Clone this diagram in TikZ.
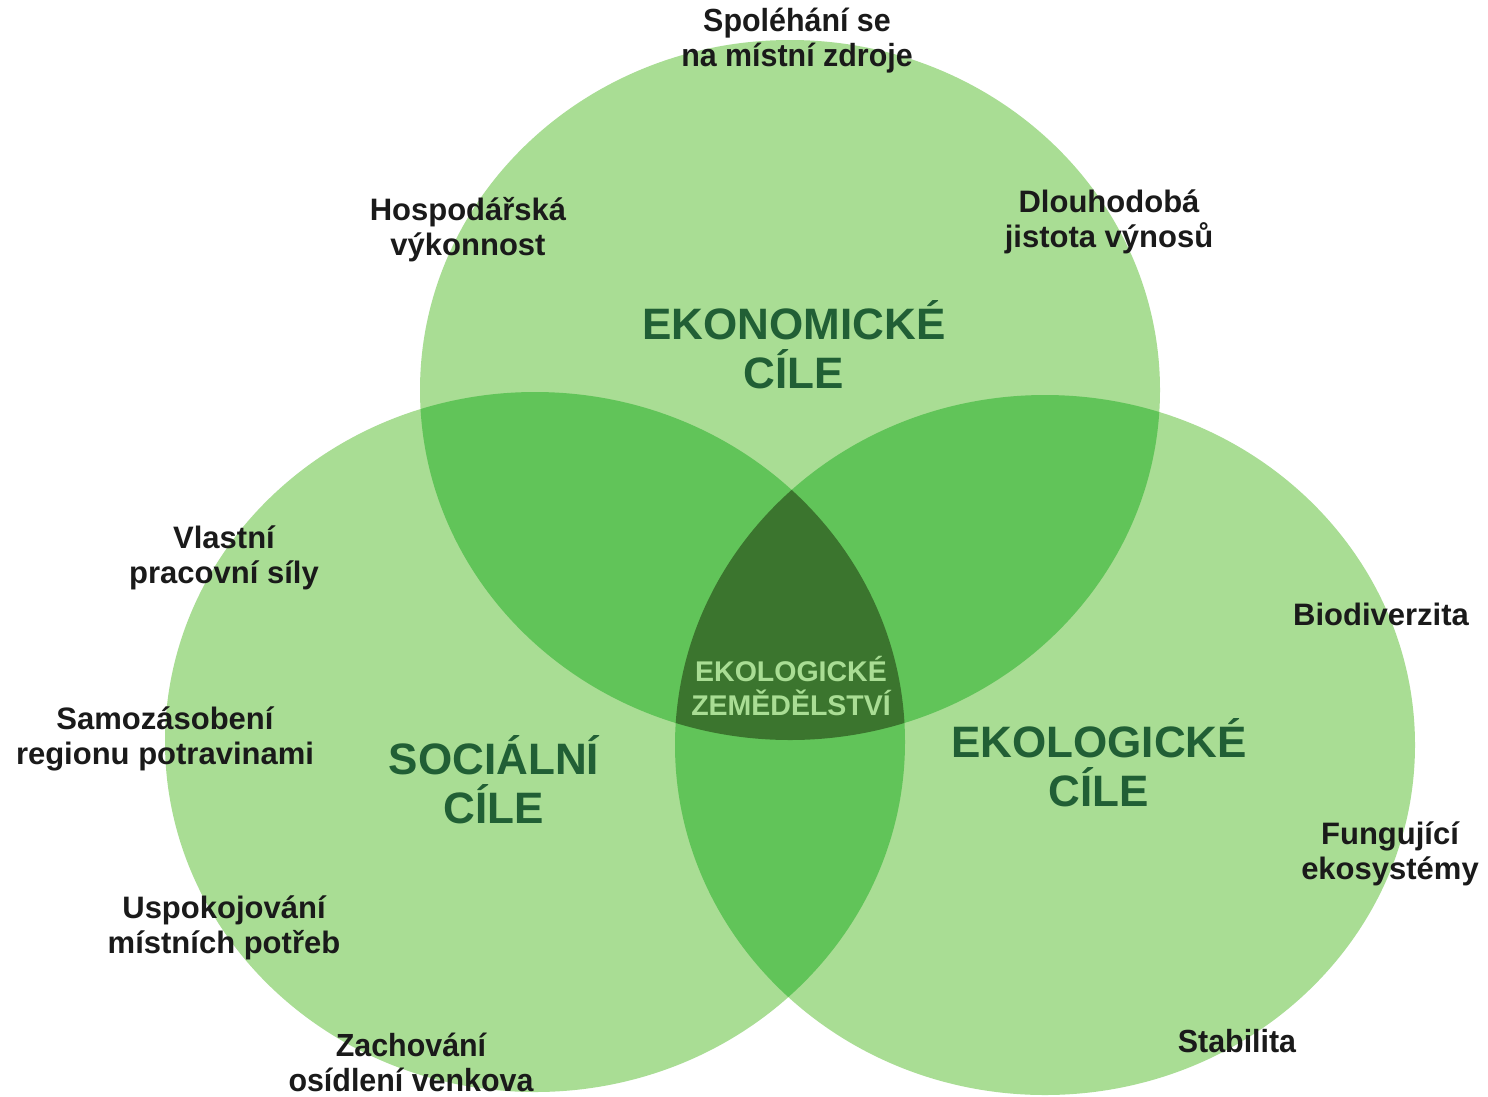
\documentclass[tikz,border=0pt]{standalone}
\usepackage{fontspec}
\setmainfont{Liberation Sans}
\begin{document}
\begin{tikzpicture}[x=1pt,y=-1pt,
  goal/.style={font=\bfseries\fontsize{44}{49}\selectfont, text=titlegreen, align=center, inner sep=0pt},
  item/.style={font=\bfseries\fontsize{31}{35}\selectfont, text=ink, align=center, inner sep=0pt},
  itemnarrow/.style={font=\bfseries\fontsize{32}{35}\selectfont, text=ink, align=center, inner sep=0pt, xscale=0.95},
  core/.style={font=\bfseries\fontsize{28.5}{34}\selectfont, text=lightgreen, align=center, inner sep=0pt}]
\definecolor{lightgreen}{RGB}{169,221,148}
\definecolor{midgreen}{RGB}{97,196,89}
\definecolor{darkgreen}{RGB}{59,117,46}
\definecolor{titlegreen}{RGB}{33,95,53}
\definecolor{ink}{RGB}{26,26,26}
\useasboundingbox (0,0) rectangle (1488,1096);
\fill[white] (0,0) rectangle (1488,1096);

% circle centres
\coordinate (ce) at (790,390);
\coordinate (cs) at (535,742);
\coordinate (cl) at (1045,745);
\def\rx{370pt}\def\ry{350pt}

% single circles
\fill[lightgreen] (ce) ellipse [x radius=\rx, y radius=\ry];
\fill[lightgreen] (cs) ellipse [x radius=\rx, y radius=\ry];
\fill[lightgreen] (cl) ellipse [x radius=\rx, y radius=\ry];

% pairwise overlaps
\begin{scope}
  \clip (ce) ellipse [x radius=\rx, y radius=\ry];
  \fill[midgreen] (cs) ellipse [x radius=\rx, y radius=\ry];
  \fill[midgreen] (cl) ellipse [x radius=\rx, y radius=\ry];
\end{scope}
\begin{scope}
  \clip (cs) ellipse [x radius=\rx, y radius=\ry];
  \fill[midgreen] (cl) ellipse [x radius=\rx, y radius=\ry];
\end{scope}

% common core
\begin{scope}
  \clip (ce) ellipse [x radius=\rx, y radius=\ry];
  \clip (cs) ellipse [x radius=\rx, y radius=\ry];
  \fill[darkgreen] (cl) ellipse [x radius=\rx, y radius=\ry];
\end{scope}

% goal titles
\node[goal] (eko) at (794,345) {EKONOMICKÉ\\CÍLE};
\node[goal] (soc) at (494,780) {SOCIÁLNÍ\\CÍLE};
\node[goal] (ekol) at (1099,763) {EKOLOGICKÉ\\CÍLE};
\node[core] (zem) at (791,686) {EKOLOGICKÉ\\ZEMĚDĚLSTVÍ};

% economic items
\node[itemnarrow] (zdroje) at (797,41) {Spoléhání se\\na místní zdroje};
\node[item] (vykon) at (468,230) {Hospodářská\\výkonnost};
\node[item] (jistota) at (1109,222) {Dlouhodobá\\jistota výnosů};

% social items
\node[item] (sily) at (224,558) {Vlastní\\pracovní síly};
\node[item] (region) at (165,739) {Samozásobení\\regionu potravinami};
\node[item] (potreby) at (224,928) {Uspokojování\\místních potřeb};
\node[itemnarrow] (venkov) at (411,1062) {Zachování\\osídlení venkova};

% ecological items
\node[item] (bio) at (1381,614) {Biodiverzita};
\node[item] (eksys) at (1390,854) {Fungující\\ekosystémy};
\node[itemnarrow] (stab) at (1237,1041) {Stabilita};
\end{tikzpicture}
\end{document}
